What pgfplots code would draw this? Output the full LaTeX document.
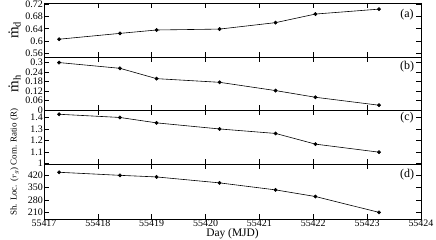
\documentclass[border=0pt]{standalone}
\usepackage{fontspec}
\setmainfont{Liberation Serif}
\usepackage{pgfplots}
\pgfplotsset{compat=1.18}
\begin{document}
\begin{tikzpicture}
\pgfplotsset{
  panel/.style={
    scale only axis, width=377bp,
    xmin=55417, xmax=55424,
    xtick={55417,55418,...,55424},
    minor x tick num=4,
    scaled ticks=false,
    tick align=inside,
    xtick pos=both, ytick pos=both,
    major tick length=5bp, minor tick length=2.5bp,
    tick style={black, line width=0.6pt},
    axis line style={line width=0.8pt},
    /pgf/number format/assume math mode=true,
    /pgf/number format/.cd, fixed, use period, 1000 sep={},
    /pgfplots/.cd,
    ticklabel style={font=\fontsize{10}{11}\selectfont},
    yticklabel style={inner sep=1pt},
    xticklabel style={inner sep=0pt, yshift=-1bp},
    every axis y label/.append style={at={(axis description cs:-0.078,0.5)}, anchor=center},
    clip=false,
  },
  ser/.style={black, line width=0.6pt, mark=*, mark size=1.6pt},
}
\path[use as bounding box] (0,0) rectangle (436bp,-240bp);
% (a)
\begin{axis}[panel, at={(44bp,-3bp)}, anchor=north west, height=54bp,
  ymin=0.548, ymax=0.724, ytick={0.56,0.6,0.64,0.68,0.72},
  yticklabels={0.56,0.6,0.64,0.68,0.72},
  xticklabel=\empty,
  ylabel={\fontsize{15}{16}\selectfont \.{m}\textsubscript{d}}]
\addplot[ser] coordinates {(55417.28,0.606) (55418.41,0.625) (55419.09,0.636) (55420.26,0.639) (55421.30,0.660) (55422.04,0.688) (55423.22,0.704)};
\node[font=\fontsize{12}{14}\selectfont] at (rel axis cs:0.963,0.78) {(a)};
\end{axis}
% (b)
\begin{axis}[panel, at={(44bp,-57bp)}, anchor=north west, height=53bp,
  ymin=0, ymax=0.333, ytick={0,0.06,0.12,0.18,0.24,0.3},
  yticklabels={0,0.06,0.12,0.18,0.24,0.3},
  xticklabel=\empty,
  ylabel={\fontsize{15}{16}\selectfont \.{m}\textsubscript{h}}]
\addplot[ser] coordinates {(55417.28,0.298) (55418.41,0.262) (55419.09,0.197) (55420.26,0.174) (55421.30,0.122) (55422.04,0.080) (55423.22,0.030)};
\node[font=\fontsize{12}{14}\selectfont] at (rel axis cs:0.963,0.81) {(b)};
\end{axis}
% (c)
\begin{axis}[panel, at={(44bp,-110bp)}, anchor=north west, height=54bp,
  ymin=0.995, ymax=1.465, ytick={1,1.1,1.2,1.3,1.4},
  yticklabels={1,1.1,1.2,1.3,1.4},
  xticklabel=\empty,
  ylabel={\fontsize{9}{10}\selectfont Com. Ratio (R)}]
\addplot[ser] coordinates {(55417.28,1.428) (55418.41,1.400) (55419.09,1.353) (55420.26,1.300) (55421.30,1.261) (55422.04,1.168) (55423.22,1.098)};
\node[font=\fontsize{12}{14}\selectfont] at (rel axis cs:0.963,0.85) {(c)};
\end{axis}
% (d)
\begin{axis}[panel, at={(44bp,-164bp)}, anchor=north west, height=55bp,
  ymin=175, ymax=481, ytick={210,280,350,420},
  xlabel={Day (MJD)},
  xlabel style={font=\fontsize{11.5}{13}\selectfont, at={(axis description cs:0.5,-0.275)}, anchor=center},
  ylabel={\fontsize{9}{10}\selectfont Sh. Loc. ($r_g$)}]
\addplot[ser] coordinates {(55417.28,435) (55418.41,418) (55419.09,409) (55420.26,376) (55421.30,337) (55422.04,300) (55423.22,212)};
\node[font=\fontsize{12}{14}\selectfont] at (rel axis cs:0.963,0.80) {(d)};
\end{axis}
\end{tikzpicture}
\end{document}
